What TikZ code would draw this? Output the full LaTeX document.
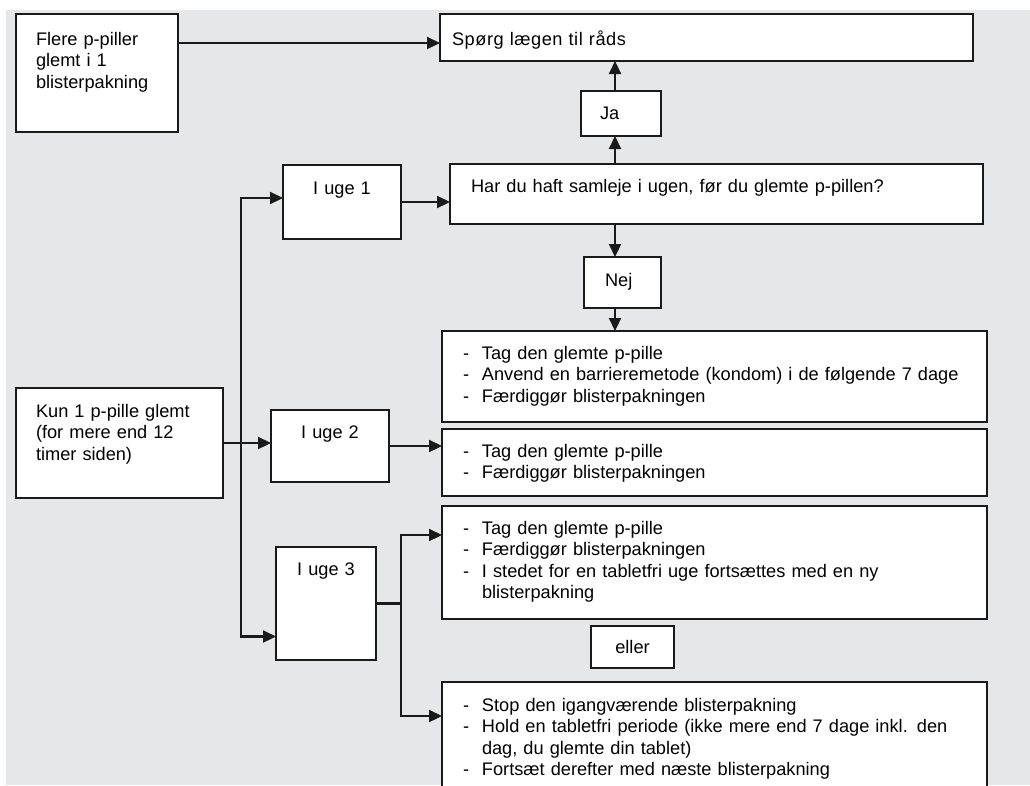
\documentclass[tikz,border=0pt]{standalone}
\usepackage{fontspec}
\setmainfont{Liberation Sans}
\usetikzlibrary{arrows.meta}

\definecolor{bggray}{HTML}{E6E7E9}
\definecolor{ink}{HTML}{1A1A1A}
\newcommand{\dashitem}[1]{\makebox[19pt][l]{-}\parbox[t]{\dimexpr\linewidth-19pt\relax}{\raggedright #1\strut}\par\prevdepth=\dp\strutbox}

\begin{document}
\begin{tikzpicture}[
    x=1pt, y=-1pt,
    card/.style={draw=ink, fill=white, line width=1.8pt, anchor=north west, inner ysep=0pt, outer sep=0pt, align=left, font=\fontsize{18.2}{21.5}\selectfont},
    week/.style={card, inner xsep=10pt, align=center},
    result/.style={card, inner xsep=21pt, text width=503pt, text height=28pt},
    arr/.style={-{Triangle[length=13pt,width=12pt]}, line width=2.2pt, draw=ink},
    fat/.style={line width=3.2pt, draw=ink}
]
\useasboundingbox (0,0) rectangle (1030,785);
\fill[bggray] (6,10) rectangle (1030,785);

\node[card, inner xsep=20pt, text width=122pt, text height=31pt, text depth=87pt] (flere) at (16,14) {Flere p-piller\\glemt i 1\\blisterpakning};
\node[card, inner xsep=12pt, text width=509pt, text height=31pt, text depth=16pt] (spoerg) at (440,14) {\addfontfeature{LetterSpace=3}Spørg lægen til råds};
\node[card, inner xsep=19pt, text width=42pt, text height=28pt, text depth=17pt] (ja) at (581,91) {Ja};
\node[card, inner xsep=21pt, text width=491pt, text height=28pt, text depth=32pt] (har) at (450,164) {Har du haft samleje i ugen, før du glemte p-pillen?};
\node[card, inner xsep=21pt, text width=35pt, text height=29pt, text depth=22pt] (nej) at (584,257) {Nej};
\node[card, inner xsep=20pt, text width=167pt, text height=29pt, text depth=81pt] (kun) at (16,388) {Kun 1 p-pille glemt\\(for mere end 12\\timer siden)};

\node[week, text width=98pt, text height=29pt, text depth=45pt] (uge1) at (283,165) {I uge 1};
\node[week, text width=98pt, text height=28pt, text depth=44pt] (uge2) at (271,410) {I uge 2};
\node[week, text width=80pt, text height=28pt, text depth=85pt] (uge3) at (276,547) {I uge 3};
\node[week, text width=63pt, text height=27pt, text depth=15pt] (eller) at (591,626) {eller};

\node[result, text depth=63pt] (res1) at (442,331) {\dashitem{Tag den glemte p-pille}
  \dashitem{Anvend en barrieremetode (kondom) i de følgende 7 dage}
  \dashitem{Færdiggør blisterpakningen}};
\node[result, text depth=39pt] (res2) at (442,429) {\dashitem{Tag den glemte p-pille}
  \dashitem{Færdiggør blisterpakningen}};
\node[result, text depth=85pt] (res3a) at (442,506) {\dashitem{Tag den glemte p-pille}
  \dashitem{Færdiggør blisterpakningen}
  \dashitem{I stedet for en tabletfri uge fortsættes med en ny\\blisterpakning}};
\node[result, text height=29pt, text depth=89pt] (res3b) at (442,682) {\dashitem{Stop den igangværende blisterpakning}
  \dashitem{Hold en tabletfri periode (ikke mere end 7 dage inkl. den\\dag, du glemte din tablet)}
  \dashitem{Fortsæt derefter med næste blisterpakning}};

% guide lines for the connectors
\coordinate (mid) at (615,0);
\coordinate (spine) at (241,0);
\coordinate (fork) at (401,0);
\coordinate (fl) at ([yshift=-29pt]flere.north east);

\draw[arr] (fl) -- (fl -| spoerg.west);
\draw[arr] (har.north -| mid) -- (ja.south -| mid);
\draw[arr] (ja.north -| mid) -- (spoerg.south -| mid);
\draw[arr] (har.south -| mid) -- (nej.north -| mid);
\draw[arr] (nej.south -| mid) -- (res1.north -| mid);
\draw[arr] (uge1.east) -- (uge1.east -| har.west);
\draw[arr] (kun.east) -- (kun.east -| uge2.west);
\draw[arr] (uge2.east) -- (uge2.east -| res2.west);
\draw[arr] (spine |- kun.east) |- ([yshift=4pt]uge1.west);
\draw[arr] (spine |- kun.east) |- ([yshift=-33pt]uge3.west);

% week 3 fork
\draw[fat] (uge3.east) -- (uge3.east -| fork);
\draw[fat,arr] (uge3.east -| fork) |- ([yshift=-29pt]res3a.north west);
\draw[fat,arr] (uge3.east -| fork) |- ([yshift=-34pt]res3b.north west);
\end{tikzpicture}
\end{document}
